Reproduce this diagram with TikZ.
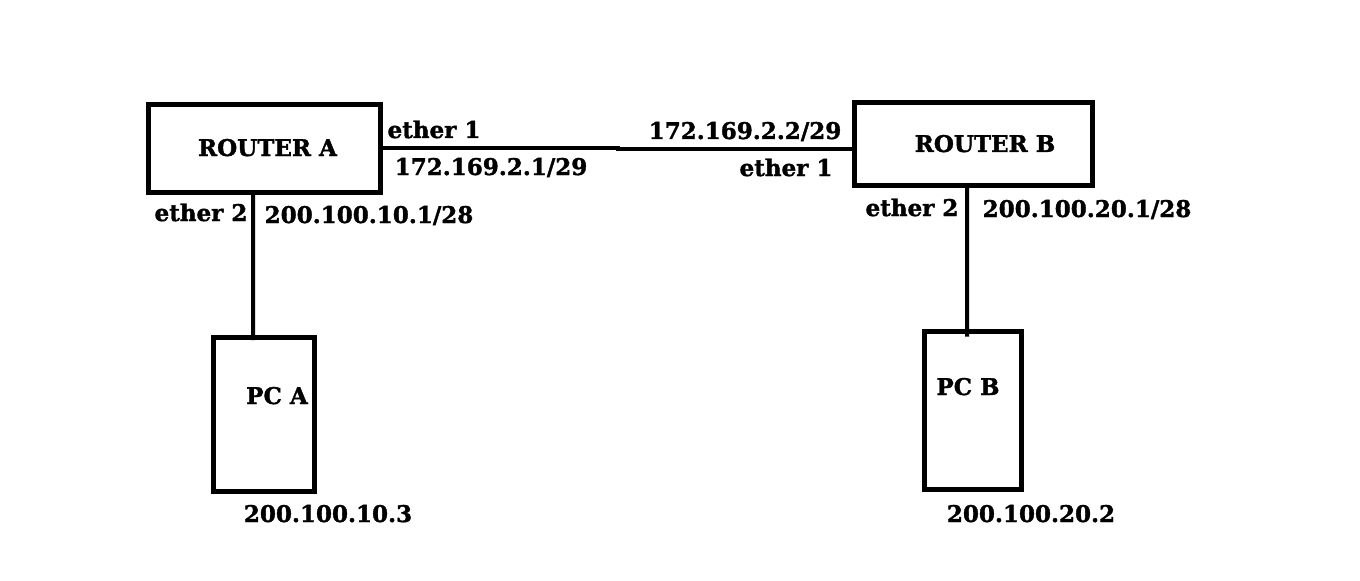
\documentclass[tikz,border=0pt]{standalone}
\usepackage{fontspec}
\setmainfont{DejaVu Serif}[BoldFeatures={FakeBold=1.5}]
\usepackage{xcolor}
\usetikzlibrary{positioning}
\tikzset{
  box/.style={draw=black, line width=0.1cm, rectangle, inner sep=0pt, outer sep=0pt},
  link/.style={black, line width=0.08cm},
  lbl/.style={font=\bfseries\fontsize{13.1}{15}\selectfont, anchor=base, inner sep=0pt}
}

\begin{document}
\begin{tikzpicture}[x=0.02cm, y=-0.02cm]
\useasboundingbox (0,0) rectangle (1360,581);
% routers and pcs
\node[box, minimum width=4.64cm, minimum height=1.76cm] (ra) at (264.5,148.5) {};
\node[box, minimum width=4.76cm, minimum height=1.66cm] (rb) at (973.5,144) {};
\node[box, minimum width=2.02cm, minimum height=3.08cm] (pca) at (264,414.5) {};
\node[box, minimum width=1.94cm, minimum height=3.16cm] (pcb) at (973,410.5) {};
% links
\draw[link] (ra.east) -- ++(4.75cm,0) |- ([yshift=-0.1cm]rb.west);
\draw[link] ([xshift=-0.23cm]ra.south) -- ([xshift=-0.22cm,yshift=-0.05cm]pca.north);
\draw[link] ([xshift=-0.13cm]rb.south) -- ([xshift=-0.12cm,yshift=-0.1cm]pcb.north);
% labels
\node[lbl] (ralbl) at (267.5,156) {ROUTER A};
\node[lbl] (rblbl) at (985,152) {ROUTER B};
\node[lbl] (pcalbl) at (277,404) {PC A};
\node[lbl] (pcblbl) at (968,395) {PC B};
\node[lbl] (ea1) at (434,138) {ether 1};
\node[lbl] (ipa1) at (491,175) {172.169.2.1/29};
\node[lbl] (ea2) at (201,221) {ether 2};
\node[lbl] (ipa2) at (369,223) {200.100.10.1/28};
\node[lbl] (ipb1) at (745,139) {172.169.2.2/29};
\node[lbl] (eb1) at (786,176) {ether 1};
\node[lbl] (eb2) at (912,216) {ether 2};
\node[lbl] (ipb2) at (1087,217) {200.100.20.1/28};
\node[lbl] (ippca) at (328,522) {200.100.10.3};
\node[lbl] (ippcb) at (1031,522) {200.100.20.2};
\end{tikzpicture}
\end{document}
